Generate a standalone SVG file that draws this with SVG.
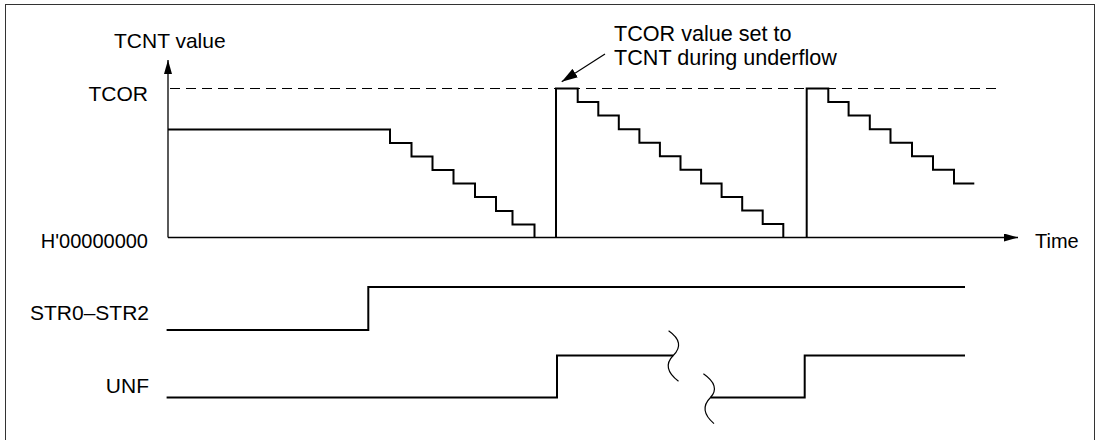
<svg xmlns="http://www.w3.org/2000/svg" width="1097" height="440" viewBox="0 0 1097 440">
<style>
text{font-family:"Liberation Sans",Arial,sans-serif;font-size:21px;fill:#000}
.wave{fill:none;stroke:#000;stroke-width:2}
.axis{fill:none;stroke:#000;stroke-width:1.3}
.thin{fill:none;stroke:#000;stroke-width:1.2}
.dash{fill:none;stroke:#000;stroke-width:1.2;stroke-dasharray:10 6}
</style>
<defs>
<marker id="ah" markerWidth="14" markerHeight="8" refX="14" refY="4" orient="auto" markerUnits="userSpaceOnUse">
<path d="M0,0 L14,4 L0,8 Z" fill="#000"/>
</marker>
<marker id="ah2" markerWidth="16" markerHeight="10" refX="16" refY="5" orient="auto" markerUnits="userSpaceOnUse">
<path d="M0,0 L16,5 L0,10 Z" fill="#000"/>
</marker>
</defs>
<rect x="5.5" y="4.5" width="1089" height="445" fill="#fff" stroke="#333" stroke-width="1"/>

<g id="axes">
<line class="axis" x1="168" y1="237.5" x2="168" y2="60" marker-end="url(#ah)"/>
<line class="axis" x1="168" y1="237.5" x2="1018" y2="237.5" marker-end="url(#ah)"/>
<line class="dash" x1="170" y1="88.5" x2="998" y2="88.5"/>
</g>

<g id="labels">
<text x="114" y="48">TCNT value</text>
<text x="148" y="101" text-anchor="end">TCOR</text>
<text x="148" y="248" text-anchor="end" style="font-size:20px">H'00000000</text>
<text x="1035" y="248" style="font-size:20px">Time</text>
<text x="149" y="320" text-anchor="end">STR0–STR2</text>
<text x="149" y="393" text-anchor="end">UNF</text>
</g>

<g id="annotation">
<text x="614" y="41" style="font-size:21.6px">TCOR value set to</text>
<text x="614" y="65" style="font-size:21.6px">TCNT during underflow</text>
<line class="thin" x1="605" y1="54" x2="561.7" y2="81.7" marker-end="url(#ah2)"/>
</g>

<g id="connectors">
<path id="tcnt1" class="wave" d="M168,129.5 H390 V143 H411.5 V156.5 H432.5 V170 H453.5 V183.5 H475 V197 H496 V211 H512.5 V224.5 H534.5 V237.5"/>
<path id="tcnt2" class="wave" d="M556,237.5 V88.5 H577.7 V102 H598.3 V115.6 H618.8 V129.2 H639.4 V142.7 H659.9 V156.3 H680.5 V169.8 H701.1 V183.4 H721.6 V196.9 H742.2 V210.5 H762.7 V224 H783.3 V237.5"/>
<path id="tcnt3" class="wave" d="M806.7,237.5 V88.5 H828.3 V102 H848.6 V115.6 H869.8 V129.2 H890.5 V142.7 H912 V156.3 H933 V169.8 H954 V183.4 H974.3"/>
<path id="str" class="wave" d="M166.6,330 H368.3 V287 H965"/>
<path id="unf1" class="wave" d="M166.6,397.5 H557 V355.5 H673.2"/>
<path id="unf2" class="wave" d="M710.5,397.5 H804.7 V355.5 H965"/>
<path id="break1" class="thin" d="M668.6,330.8 Q686,343 673.2,355.5 Q661,368 678.5,381.3"/>
<path id="break2" class="thin" d="M703.4,373.8 Q721,386 710.5,397.5 Q698,410 714,423.6"/>
</g>
</svg>
